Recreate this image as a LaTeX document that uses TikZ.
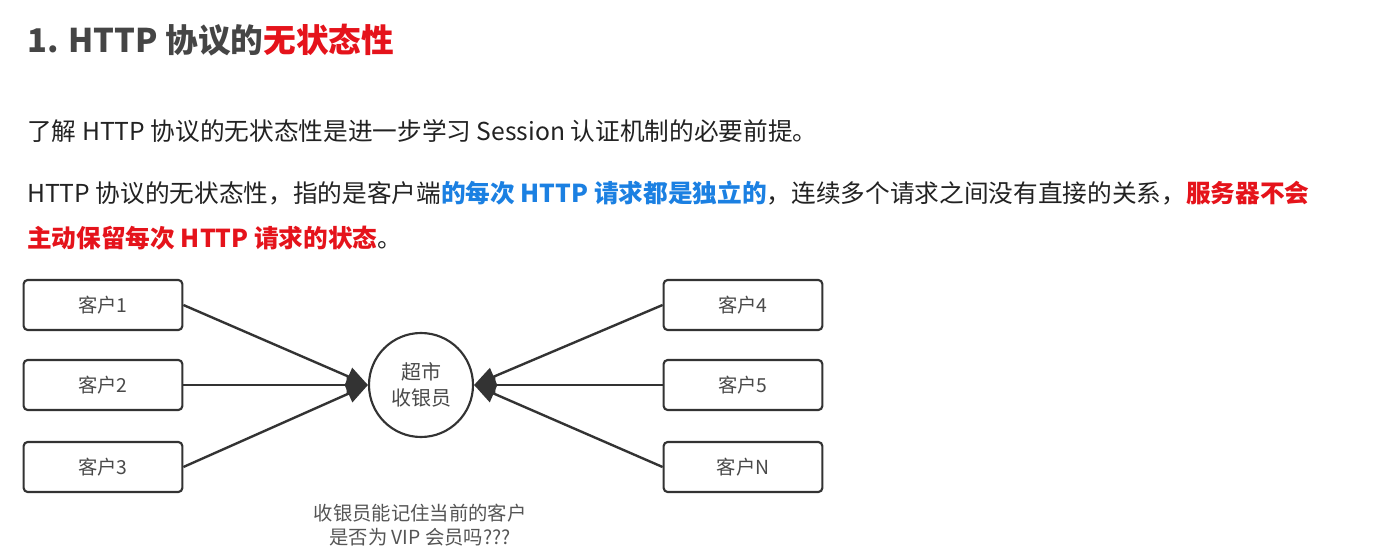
\documentclass[tikz,border=0pt]{standalone}
\usepackage{fontspec}
\setmainfont{Noto Sans CJK SC}
\usetikzlibrary{arrows.meta}
\definecolor{ctitle}{HTML}{454545}
\definecolor{cred}{HTML}{E5131B}
\definecolor{cblue}{HTML}{1B80E2}
\definecolor{ctext}{HTML}{222222}
\definecolor{cline}{HTML}{333333}
\definecolor{clabel}{HTML}{4A4A4A}
\definecolor{cnote}{HTML}{555555}

\begin{document}
\begin{tikzpicture}[
  x=0.75pt, y=-0.75pt,
  para/.style={
    anchor=base west, inner sep=0pt, text=ctext,
    font=\fontsize{18.5}{22}\selectfont
  },
  custbox/.style={
    draw=cline, line width=1.6pt, rounded corners=3pt,
    minimum width=119pt, minimum height=37.5pt,
    text=clabel, font=\fontsize{14.5}{16}\selectfont
  },
  cashierbox/.style={
    circle, draw=cline, line width=1.6pt, minimum size=78pt,
    inner sep=0pt, align=center, text=clabel,
    font=\fontsize{15}{20}\selectfont
  },
  conn/.style={
    draw=cline, line width=1.8pt,
    -{Triangle[length=16pt, width=14pt]}
  }
]
\useasboundingbox[fill=white] (0,0) rectangle (1388,560);

% ============================================================
% heading and text
% ============================================================
\node[para, text=ctitle, font=\fontsize{24.5}{30}\selectfont\bfseries]
  (title) at (27, 53) {1. HTTP 协议的{\color{cred}无状态性}};

\node[para] (intro) at (27, 140)
  {了解 HTTP 协议的无状态性是进一步学习 Session 认证机制的必要前提。};

\node[para] (def1) at (27, 202)
  {HTTP 协议的无状态性，指的是客户端{\color{cblue}\bfseries 的每次 HTTP 请求都是独立的}，连续多个请求之间没有直接的关系，{\color{cred}\bfseries 服务器不会}};

\node[para] (def2) at (27, 247)
  {{\color{cred}\bfseries 主动保留每次 HTTP 请求的状态}。};

% ============================================================
% customers and cashier
% ============================================================
\node[cashierbox] (cashier) at (421, 385) {超市\\收银员};

% left column
\foreach \n/\y in {1/305, 2/385, 3/467} {
  \node[custbox] (c\n) at (103, \y) {客户\n};
  \draw[conn] (c\n.east) -- (cashier.west);
}

% right column
\foreach \n/\y in {4/305, 5/385, N/467} {
  \node[custbox] (c\n) at (743, \y) {客户\n};
  \draw[conn] (c\n.west) -- (cashier.east);
}

\node[align=center, text=cnote, font=\fontsize{14.5}{18}\selectfont]
  (note) at (420, 525) {收银员能记住当前的客户\\是否为 VIP 会员吗???};

\end{tikzpicture}
\end{document}
